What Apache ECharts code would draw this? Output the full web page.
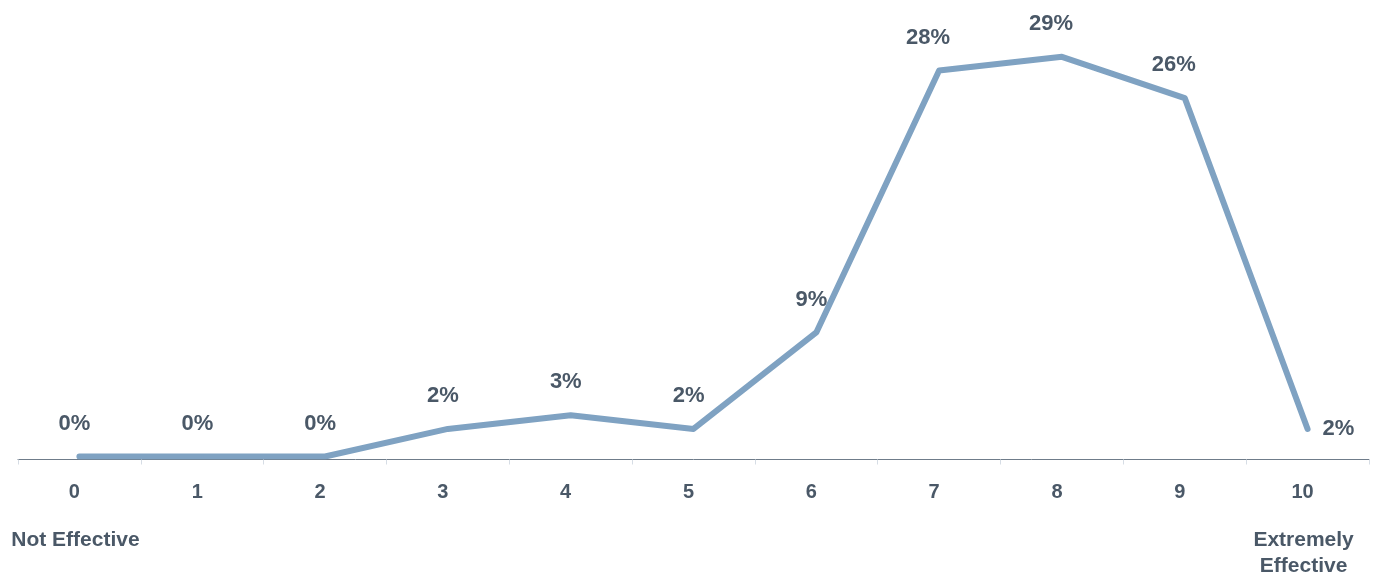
<!DOCTYPE html>
<html>
<head>
<meta charset="utf-8">
<script src="https://cdn.jsdelivr.net/npm/echarts@6/dist/echarts.min.js"></script>
<style>
html,body{margin:0;padding:0;background:#fff;}
#chart{width:1376px;height:574px;}
</style>
</head>
<body>
<div id="chart"></div>
<script>
// Data
var categories = ['0','1','2','3','4','5','6','7','8','9','10'];
var values = [0, 0, 0, 2, 3, 2, 9, 28, 29, 26, 2];
var endLabels = {0: ['Not Effective'], 10: ['Extremely', 'Effective']};

var textColor = '#4a5867';
var lineColor = '#7fa2c2';
var fontFam = '"Liberation Sans", Arial, Helvetica, sans-serif';

var chart = echarts.init(document.getElementById('chart'), null, {renderer: 'canvas'});

var seriesData = values.map(function (v, i) {
  if (i === values.length - 1) {
    return {value: v, label: {position: 'right', align: 'left', offset: [0, 0], distance: 14}};
  }
  return v;
});

chart.setOption({
  backgroundColor: '#ffffff',
  animation: false,
  grid: {left: 18, right: 7, top: 43, bottom: 117.5, containLabel: false, outerBoundsMode: 'none'},
  xAxis: {
    type: 'category',
    data: categories,
    boundaryGap: true,
    offset: 3,
    axisLine: {show: true, onZero: false, lineStyle: {color: '#6f7c8a', width: 1}},
    axisTick: {show: true, length: 5, lineStyle: {color: '#d6dde5', width: 1}},
    axisLabel: {
      margin: -3,
      interval: 0,
      formatter: function (val, idx) {
        var s = '{v|' + val + '}';
        var sub = endLabels[idx];
        if (sub) {
          s += '\n' + sub.map(function (t) { return '{s|' + t + '}'; }).join('\n');
        }
        return s;
      },
      rich: {
        v: {fontFamily: fontFam, fontWeight: 'bold', fontSize: 20, color: textColor, lineHeight: 71, padding: [0, 10, 0, 0]},
        s: {fontFamily: fontFam, fontWeight: 'bold', fontSize: 21, color: textColor, lineHeight: 26, padding: [0, 8, 0, 0]}
      }
    },
    splitLine: {show: false}
  },
  yAxis: {
    type: 'value',
    min: 0,
    max: 30,
    show: false
  },
  series: [{
    type: 'line',
    data: seriesData,
    symbol: 'circle',
    symbolSize: 2,
    showSymbol: true,
    lineStyle: {color: lineColor, width: 6, cap: 'round', join: 'round'},
    itemStyle: {color: lineColor},
    label: {
      show: true,
      position: 'top',
      distance: 21,
      align: 'right',
      offset: [11, 0],
      formatter: '{c}%',
      fontFamily: fontFam,
      fontWeight: 'bold',
      fontSize: 22,
      color: textColor
    }
  }]
});
</script>
</body>
</html>
